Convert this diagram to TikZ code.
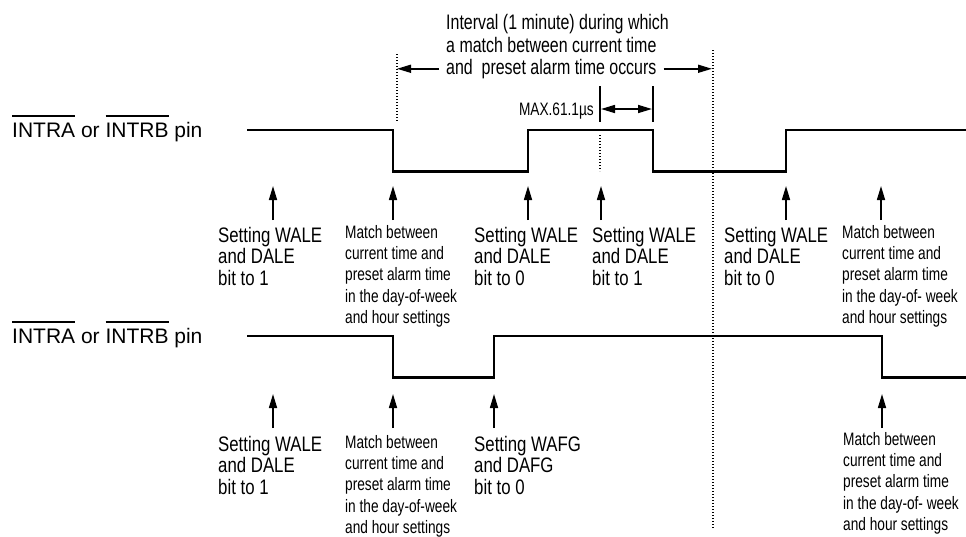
\documentclass[tikz,border=0pt]{standalone}
\usepackage{fontspec}
\setmainfont{Liberation Sans}
\newfontfamily\labelfont[FakeStretch=0.8]{Liberation Sans}
\newfontfamily\notefont[FakeStretch=0.76]{Liberation Sans}
\usetikzlibrary{arrows.meta}
\newsavebox\ovlbox
\newcommand{\ovl}[1]{\sbox\ovlbox{#1}\rlap{\rule[\dimexpr\ht\ovlbox+6.5pt\relax]{\wd\ovlbox}{1.4pt}}\usebox\ovlbox}

\begin{document}
\begin{tikzpicture}[x=1pt,y=-1pt,>={Triangle[length=14pt,width=8pt]},
  signal/.style={line width=2.7pt,line join=miter},
  marker/.style={line width=1.6pt,->},
  guide/.style={line width=1.4pt,dash pattern=on 1.4pt off 1.6pt},
  pin/.style={font=\fontsize{21}{24}\selectfont,inner sep=0pt,anchor=base west},
  setting/.style={font=\labelfont\fontsize{21}{21.5}\selectfont,align=left,inner sep=0pt,anchor=north west},
  match/.style={font=\notefont\fontsize{18}{21.3}\selectfont,align=left,inner sep=0pt,anchor=north west}]
\useasboundingbox (0,0) rectangle (966,536);

\node[pin] (pinA) at (12,137.5) {\ovl{INTRA} or \ovl{INTRB} pin};
\node[pin] (pinB) at (12,343.5) {\ovl{INTRA} or \ovl{INTRB} pin};

\draw[signal] (247,130) -- (393,130) -- (393,171.5) -- (528,171.5) -- (528,130) -- (653,130)
  -- (653,171.5) -- (786,171.5) -- (786,130) -- (966,130);
\draw[signal] (247,336) -- (393,336) -- (393,377.5) -- (494,377.5) -- (494,336) -- (882,336)
  -- (882,377.5) -- (966,377.5);

\node[setting,font=\notefont\fontsize{21}{22.8}\selectfont] (interval) at (446,14)
  {Interval (1 minute) during which\\a match between current time};
\node[pin,font=\notefont\fontsize{21}{22.8}\selectfont,inner xsep=7pt] (occurs) at (439,74.2)
  {and\ \ preset alarm time occurs};

\coordinate (lefttop) at (397,54);
\coordinate (leftbot) at (397,122);
\coordinate (righttop) at (713,50);
\coordinate (rightbot) at (713,528);
\draw[guide] (lefttop) -- (leftbot);
\draw[guide] (righttop) -- (rightbot);
\draw[marker] (occurs.west) -- (occurs.west -| lefttop);
\draw[marker,shorten >=1pt] (occurs.east) -- (occurs.east -| righttop);

\coordinate (tickL) at (600,86);
\coordinate (tickR) at (653,86);
\coordinate (spanL) at (600,109);
\coordinate (spanR) at (653,109);
\coordinate (midtop) at (600,135);
\coordinate (midbot) at (600,171);
\draw[line width=1.3pt] (tickL) -- ++(0,36) (tickR) -- ++(0,36);
\draw[line width=1.6pt,<->,shorten <=1pt,shorten >=1pt] (spanL) -- (spanR);
\draw[guide] (midtop) -- (midbot);
\node[match,anchor=base east,inner xsep=6pt] (maxtime) at (600,115.5) {MAX.61.1µs};

\foreach \x [count=\i] in {273,393,528,601,786,881} {
  \coordinate (up\i) at (\x,220);
  \coordinate (tip\i) at (\x,186);
  \draw[marker] (up\i) -- (tip\i);
}
\foreach \x [count=\i] in {273,393,494,882} {
  \coordinate (lowup\i) at (\x,428);
  \coordinate (lowtip\i) at (\x,394);
  \draw[marker] (lowup\i) -- (lowtip\i);
}

\node[setting] (waleA) at (218,227) {Setting WALE\\and DALE\\bit to 1};
\node[match] (matchA) at (345,225) {Match between\\current time and\\preset alarm time\\in the day-of-week\\and hour settings};
\node[setting] (waleB) at (474,227) {Setting WALE\\and DALE\\bit to 0};
\node[setting] (waleC) at (592,227) {Setting WALE\\and DALE\\bit to 1};
\node[setting] (waleD) at (724,227) {Setting WALE\\and DALE\\bit to 0};
\node[match] (matchB) at (842,225) {Match between\\current time and\\preset alarm time\\in the day-of- week\\and hour settings};

\node[setting] (waleE) at (218,436) {Setting WALE\\and DALE\\bit to 1};
\node[match] (matchC) at (345,435) {Match between\\current time and\\preset alarm time\\in the day-of-week\\and hour settings};
\node[setting] (wafg) at (474,436) {Setting WAFG\\and DAFG\\bit to 0};
\node[match] (matchD) at (843,432) {Match between\\current time and\\preset alarm time\\in the day-of- week\\and hour settings};
\end{tikzpicture}
\end{document}
